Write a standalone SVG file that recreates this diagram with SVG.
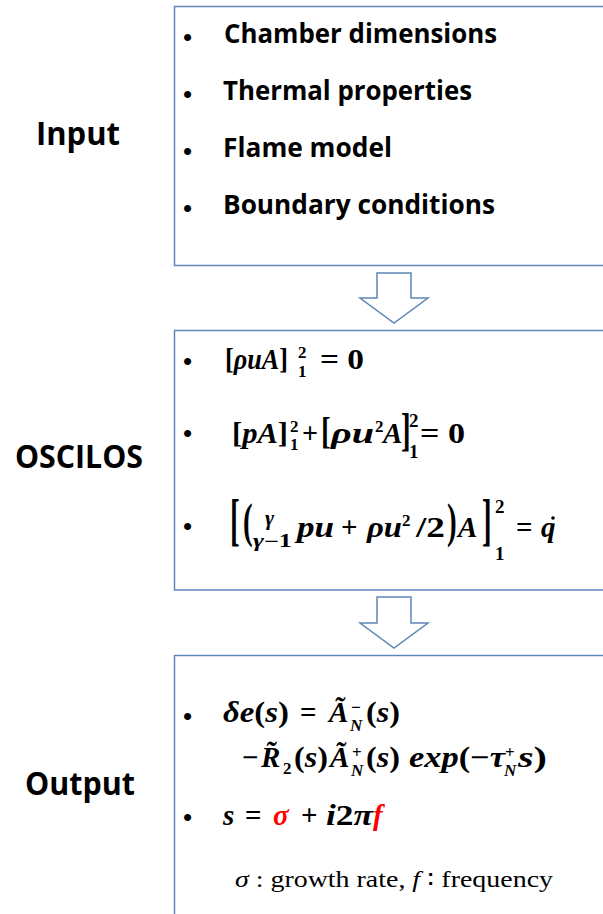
<svg xmlns="http://www.w3.org/2000/svg" width="603" height="914" viewBox="0 0 603 914">
<style>
.box{fill:#fff;stroke:#5f87b9;stroke-width:1.5}
.arr{fill:#fff;stroke:#5f87b9;stroke-width:1.5;stroke-linejoin:miter}
.lbl{font-family:"Open Sans","Liberation Sans",sans-serif;font-weight:bold;font-size:32px;fill:#000}
.it{font-family:"Open Sans","Liberation Sans",sans-serif;font-weight:bold;font-size:26px;fill:#000}
.bul{font-family:"Liberation Sans",sans-serif;font-size:26px;fill:#000}
.m{font-family:"Liberation Serif","DejaVu Serif",serif;font-weight:bold;font-style:italic;font-size:29px;fill:#000}
.u{font-style:normal}
.s{font-size:17px}
.red{fill:#ff0000}
.fn{font-family:"Liberation Serif","DejaVu Serif",serif;font-size:23px;fill:#000}
</style>
<rect width="603" height="914" fill="#fff"/>
<g id="connectors">
<polygon class="arr" points="377,273 411,273 411,298 428,298 394,323 360,298 377,298"/>
<polygon class="arr" points="377,597 411,597 411,623 428,623 394,648 360,623 377,623"/>
</g>
<g id="input">
<rect class="box" x="174.5" y="6.5" width="440" height="259"/>
<text class="lbl" x="36" y="145" textLength="84" lengthAdjust="spacingAndGlyphs">Input</text>
<text class="bul" x="183" y="46">•</text>
<text class="it" x="224" y="43" textLength="273" lengthAdjust="spacingAndGlyphs">Chamber dimensions</text>
<text class="bul" x="183" y="103">•</text>
<text class="it" x="223" y="100" textLength="249" lengthAdjust="spacingAndGlyphs">Thermal properties</text>
<text class="bul" x="183" y="160">•</text>
<text class="it" x="223" y="157" textLength="169" lengthAdjust="spacingAndGlyphs">Flame model</text>
<text class="bul" x="183" y="217">•</text>
<text class="it" x="223" y="214" textLength="272" lengthAdjust="spacingAndGlyphs">Boundary conditions</text>
</g>
<g id="oscilos">
<rect class="box" x="174.5" y="330.5" width="440" height="259.5"/>
<text class="lbl" x="15" y="468" textLength="128" lengthAdjust="spacingAndGlyphs">OSCILOS</text>
<text class="bul" x="183" y="370">•</text>
<text class="m" x="225" y="369" textLength="63" lengthAdjust="spacingAndGlyphs"><tspan class="u">[</tspan>ρuA<tspan class="u">]</tspan></text>
<text class="m u s" x="298" y="358">2</text>
<text class="m u s" x="298" y="377">1</text>
<text class="m u" x="320" y="369" textLength="44" lengthAdjust="spacingAndGlyphs">= 0</text>

<text class="bul" x="183" y="442">•</text>
<text class="m" x="232" y="443" textLength="56" lengthAdjust="spacingAndGlyphs"><tspan class="u">[</tspan>pA<tspan class="u">]</tspan></text>
<text class="m u s" x="290" y="432">2</text>
<text class="m u s" x="290" y="450">1</text>
<text class="m u" x="302" y="443" textLength="16" lengthAdjust="spacingAndGlyphs">+</text>
<text class="m u" transform="translate(321,444) scale(1,1.3)">[</text>
<text class="m" x="331" y="443" textLength="43" lengthAdjust="spacingAndGlyphs">ρu</text>
<text class="m u s" x="375" y="432">2</text>
<text class="m" x="383" y="443">A</text>
<text class="m u" transform="translate(401,445) scale(1,1.6)">]</text>
<text class="m u" x="409" y="427" style="font-size:19px">2</text>
<text class="m u" x="409" y="458" style="font-size:19px">1</text>
<text class="m u" x="420" y="443" textLength="45" lengthAdjust="spacingAndGlyphs">= 0</text>

<text class="bul" x="183" y="535">•</text>
<text class="m u" transform="translate(230,539) scale(1,2)">[</text>
<text class="m u" transform="translate(243,537) scale(1,1.65)">(</text>
<text class="m" x="265" y="525" style="font-size:22px">γ</text>
<text class="m" x="253" y="547" style="font-size:18px" textLength="39" lengthAdjust="spacingAndGlyphs">γ<tspan class="u">−1</tspan></text>
<text class="m" x="297" y="537" textLength="37" lengthAdjust="spacingAndGlyphs">pu</text>
<text class="m u" x="341" y="537">+</text>
<text class="m" x="367" y="537" textLength="35" lengthAdjust="spacingAndGlyphs">ρu</text>
<text class="m u s" x="402" y="526">2</text>
<text class="m u" x="416" y="537" textLength="29" lengthAdjust="spacingAndGlyphs">/2</text>
<text class="m u" transform="translate(447,537) scale(1,1.65)">)</text>
<text class="m" x="458" y="537">A</text>
<text class="m u" transform="translate(482,539) scale(1,2)">]</text>
<text class="m u" x="495" y="513" style="font-size:19px">2</text>
<text class="m u" x="495" y="560" style="font-size:19px">1</text>
<text class="m u" x="516" y="537">=</text>
<text class="m" x="541" y="537">q</text>
<circle cx="553" cy="518" r="1.8" fill="#000"/>
</g>
<g id="output">
<rect class="box" x="174.5" y="655.5" width="440" height="270"/>
<text class="lbl" x="25" y="795" textLength="110" lengthAdjust="spacingAndGlyphs">Output</text>
<text class="bul" x="183" y="725">•</text>
<text class="m" x="223" y="722" textLength="66" lengthAdjust="spacingAndGlyphs">δe<tspan class="u">(</tspan>s<tspan class="u">)</tspan></text>
<text class="m u" x="300" y="722">=</text>
<text class="m" x="329" y="722">Ã</text>
<text class="m u s" x="351" y="713">−</text>
<text class="m s" x="350" y="731">N</text>
<text class="m" x="366" y="722" textLength="34" lengthAdjust="spacingAndGlyphs"><tspan class="u">(</tspan>s<tspan class="u">)</tspan></text>

<text class="m u" x="242" y="767">−</text>
<text class="m" x="261" y="767">R̃</text>
<text class="m u s" x="283" y="774">2</text>
<text class="m" x="294" y="767" textLength="34" lengthAdjust="spacingAndGlyphs"><tspan class="u">(</tspan>s<tspan class="u">)</tspan></text>
<text class="m" x="330" y="767">Ã</text>
<text class="m u s" x="352" y="758">+</text>
<text class="m s" x="351" y="776">N</text>
<text class="m" x="366" y="767" textLength="34" lengthAdjust="spacingAndGlyphs"><tspan class="u">(</tspan>s<tspan class="u">)</tspan></text>
<text class="m" x="409" y="767" textLength="96" lengthAdjust="spacingAndGlyphs">exp<tspan class="u">(−</tspan>τ</text>
<text class="m u s" x="505" y="758">+</text>
<text class="m s" x="504" y="776">N</text>
<text class="m" x="518" y="767" textLength="29" lengthAdjust="spacingAndGlyphs">s<tspan class="u">)</tspan></text>

<text class="bul" x="183" y="826">•</text>
<text class="m" x="223" y="825">s</text>
<text class="m u" x="245" y="825">=</text>
<text class="m red" x="273" y="825">σ</text>
<text class="m u" x="301" y="825">+</text>
<text class="m" x="326" y="825" textLength="47" lengthAdjust="spacingAndGlyphs">i<tspan class="u">2</tspan>π</text>
<text class="m red" x="373" y="825">f</text>

<text class="fn" x="235" y="887" textLength="318" lengthAdjust="spacingAndGlyphs"><tspan font-style="italic">σ</tspan> : growth rate, <tspan font-style="italic">f</tspan> ∶ frequency</text>
</g>
</svg>
